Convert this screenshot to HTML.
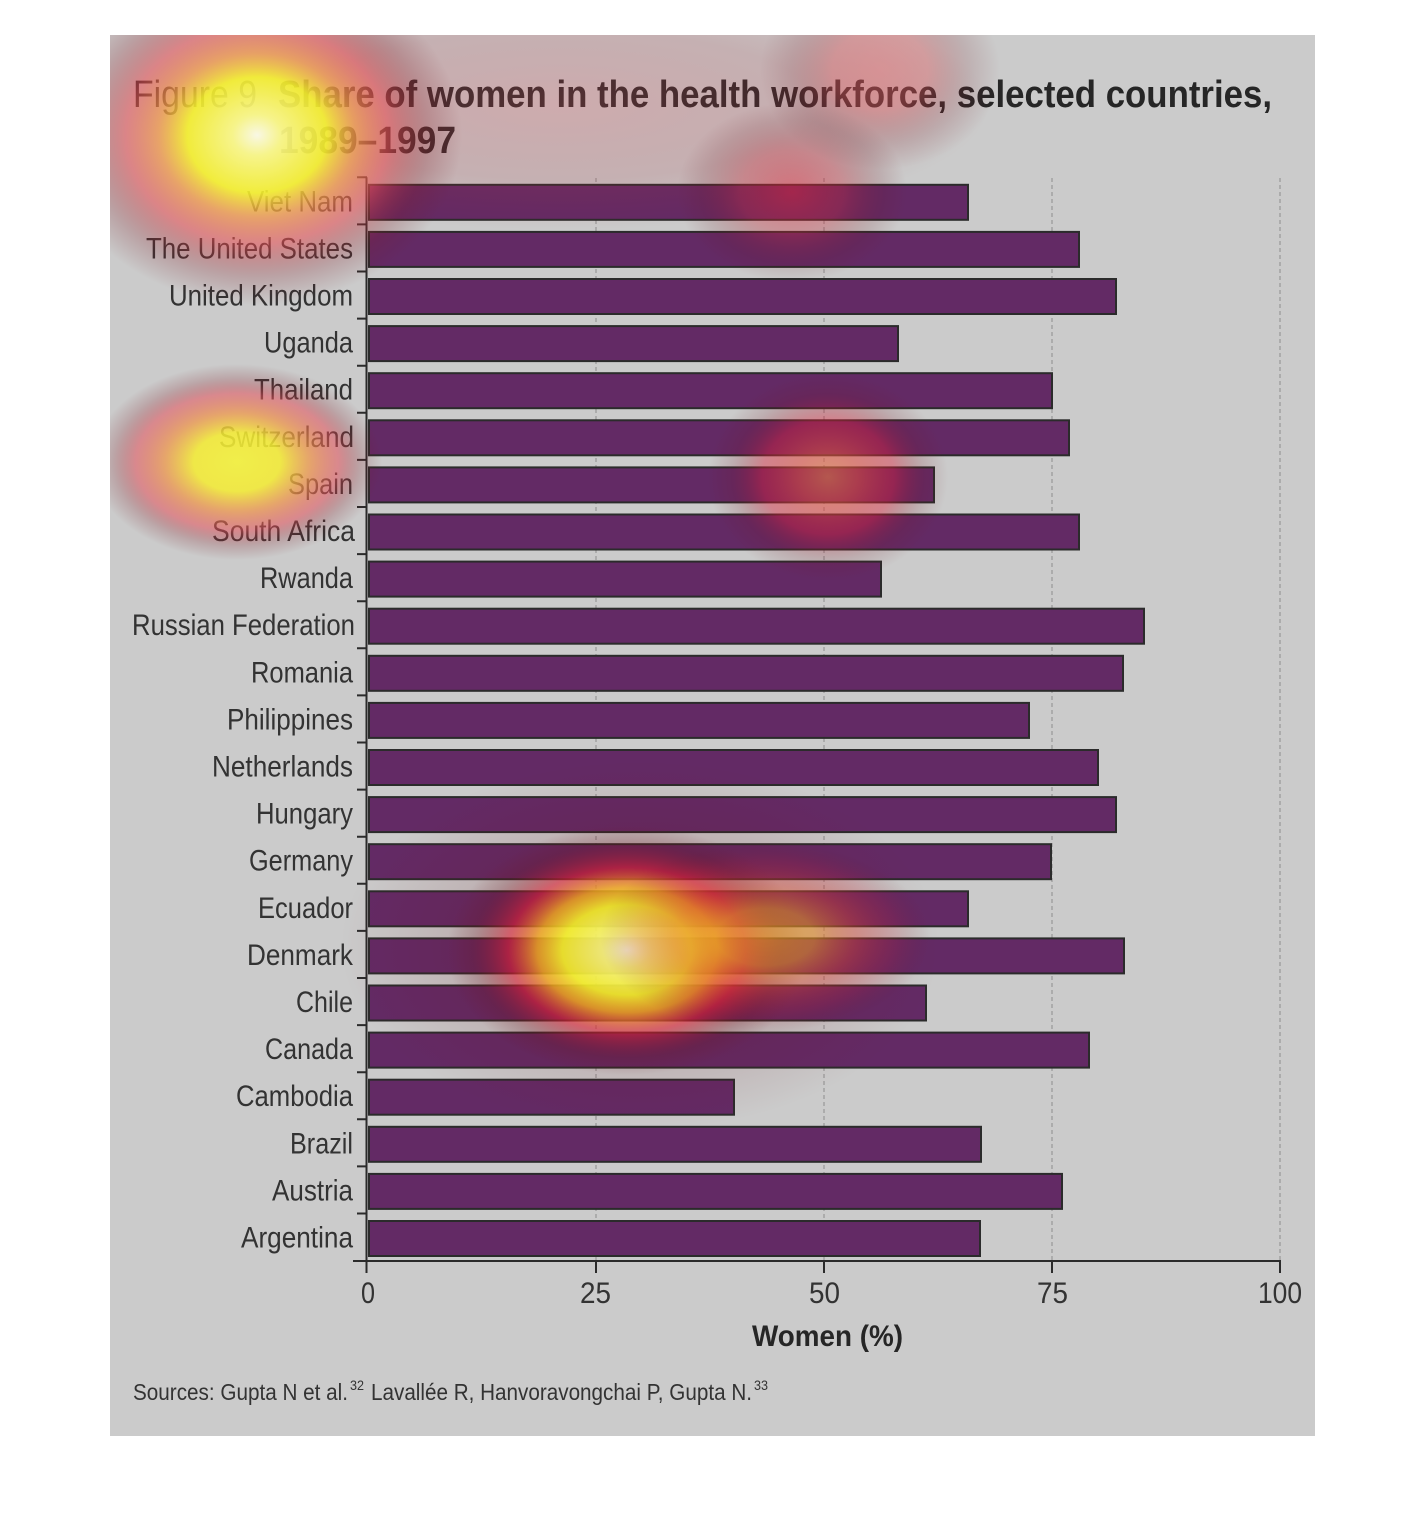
<!DOCTYPE html>
<html>
<head>
<meta charset="utf-8">
<style>
html,body{margin:0;padding:0;background:#ffffff;}
svg{display:block;}
text{font-family:"Liberation Sans",Arial,sans-serif;}
</style>
</head>
<body>
<svg width="1426" height="1530" viewBox="0 0 1426 1530" xmlns="http://www.w3.org/2000/svg">
<defs>
  <clipPath id="panelClip"><rect x="110" y="35" width="1205" height="1401"/></clipPath>
  <radialGradient id="gA">
    <stop offset="0" stop-color="rgb(250,250,230)" stop-opacity="0.96"/>
    <stop offset="0.12" stop-color="rgb(250,248,135)" stop-opacity="0.93"/>
    <stop offset="0.34" stop-color="rgb(245,240,45)" stop-opacity="0.9"/>
    <stop offset="0.48" stop-color="rgb(242,150,70)" stop-opacity="0.74"/>
    <stop offset="0.64" stop-color="rgb(232,75,80)" stop-opacity="0.55"/>
    <stop offset="0.84" stop-color="rgb(130,25,35)" stop-opacity="0.22"/>
    <stop offset="1" stop-color="rgb(110,20,30)" stop-opacity="0"/>
  </radialGradient>
  <radialGradient id="gB">
    <stop offset="0" stop-color="rgb(245,242,60)" stop-opacity="0.9"/>
    <stop offset="0.3" stop-color="rgb(245,236,50)" stop-opacity="0.86"/>
    <stop offset="0.5" stop-color="rgb(240,150,70)" stop-opacity="0.72"/>
    <stop offset="0.7" stop-color="rgb(230,75,85)" stop-opacity="0.52"/>
    <stop offset="0.86" stop-color="rgb(130,25,35)" stop-opacity="0.2"/>
    <stop offset="1" stop-color="rgb(110,20,30)" stop-opacity="0"/>
  </radialGradient>
  <radialGradient id="gC">
    <stop offset="0" stop-color="rgb(230,115,65)" stop-opacity="0.62"/>
    <stop offset="0.25" stop-color="rgb(228,75,60)" stop-opacity="0.56"/>
    <stop offset="0.55" stop-color="rgb(220,30,55)" stop-opacity="0.42"/>
    <stop offset="0.8" stop-color="rgb(120,20,35)" stop-opacity="0.16"/>
    <stop offset="1" stop-color="rgb(110,20,30)" stop-opacity="0"/>
  </radialGradient>
  <radialGradient id="gD">
    <stop offset="0" stop-color="rgb(246,244,205)" stop-opacity="0.95"/>
    <stop offset="0.14" stop-color="rgb(248,245,120)" stop-opacity="0.92"/>
    <stop offset="0.36" stop-color="rgb(245,240,40)" stop-opacity="0.9"/>
    <stop offset="0.5" stop-color="rgb(245,170,30)" stop-opacity="0.8"/>
    <stop offset="0.66" stop-color="rgb(230,30,50)" stop-opacity="0.55"/>
    <stop offset="0.86" stop-color="rgb(110,20,30)" stop-opacity="0.2"/>
    <stop offset="1" stop-color="rgb(110,20,30)" stop-opacity="0"/>
  </radialGradient>
  <radialGradient id="gD2">
    <stop offset="0" stop-color="rgb(238,160,35)" stop-opacity="0.62"/>
    <stop offset="0.3" stop-color="rgb(236,150,40)" stop-opacity="0.56"/>
    <stop offset="0.55" stop-color="rgb(228,70,50)" stop-opacity="0.38"/>
    <stop offset="0.8" stop-color="rgb(200,30,50)" stop-opacity="0.16"/>
    <stop offset="1" stop-color="rgb(110,20,30)" stop-opacity="0"/>
  </radialGradient>
  <radialGradient id="gHalo">
    <stop offset="0" stop-color="rgb(110,20,30)" stop-opacity="0.2"/>
    <stop offset="0.6" stop-color="rgb(110,20,30)" stop-opacity="0.14"/>
    <stop offset="1" stop-color="rgb(110,20,30)" stop-opacity="0"/>
  </radialGradient>
  <radialGradient id="gHaze">
    <stop offset="0" stop-color="rgb(215,80,90)" stop-opacity="0.26"/>
    <stop offset="0.6" stop-color="rgb(170,55,65)" stop-opacity="0.18"/>
    <stop offset="1" stop-color="rgb(150,40,50)" stop-opacity="0"/>
  </radialGradient>
  <radialGradient id="gE">
    <stop offset="0" stop-color="rgb(232,95,100)" stop-opacity="0.45"/>
    <stop offset="0.4" stop-color="rgb(225,80,85)" stop-opacity="0.36"/>
    <stop offset="0.75" stop-color="rgb(120,25,35)" stop-opacity="0.14"/>
    <stop offset="1" stop-color="rgb(110,20,30)" stop-opacity="0"/>
  </radialGradient>
  <radialGradient id="gF">
    <stop offset="0" stop-color="rgb(225,35,55)" stop-opacity="0.5"/>
    <stop offset="0.45" stop-color="rgb(200,40,55)" stop-opacity="0.34"/>
    <stop offset="0.8" stop-color="rgb(110,20,30)" stop-opacity="0.13"/>
    <stop offset="1" stop-color="rgb(110,20,30)" stop-opacity="0"/>
  </radialGradient>
</defs>

<!-- panel -->
<rect x="110" y="35" width="1205" height="1401" fill="#cbcbcb"/>

<!-- title -->
<text x="133" y="107" font-size="38" fill="#262626" textLength="124" lengthAdjust="spacingAndGlyphs">Figure 9</text>
<text x="278" y="107" font-size="38" font-weight="bold" fill="#262626" textLength="994" lengthAdjust="spacingAndGlyphs">Share of women in the health workforce, selected countries,</text>
<text x="279" y="153" font-size="38" font-weight="bold" fill="#262626" textLength="177" lengthAdjust="spacingAndGlyphs">1989–1997</text>

<!-- gridlines -->
<g stroke="#a4a4a4" stroke-width="1.6" stroke-dasharray="4 3">
  <line x1="596" y1="178" x2="596" y2="1260"/>
  <line x1="824" y1="178" x2="824" y2="1260"/>
  <line x1="1052" y1="178" x2="1052" y2="1260"/>
  <line x1="1280" y1="178" x2="1280" y2="1260"/>
</g>

<!-- bars -->
<g fill="#632a65" stroke="#2b2b2b" stroke-width="2">
  <rect x="369" y="184.8" width="599" height="35"/>
  <rect x="369" y="231.9" width="710" height="35"/>
  <rect x="369" y="279.0" width="747" height="35"/>
  <rect x="369" y="326.1" width="529" height="35"/>
  <rect x="369" y="373.2" width="683" height="35"/>
  <rect x="369" y="420.3" width="700" height="35"/>
  <rect x="369" y="467.4" width="565" height="35"/>
  <rect x="369" y="514.5" width="710" height="35"/>
  <rect x="369" y="561.6" width="512" height="35"/>
  <rect x="369" y="608.7" width="775" height="35"/>
  <rect x="369" y="655.8" width="754" height="35"/>
  <rect x="369" y="702.9" width="660" height="35"/>
  <rect x="369" y="750.0" width="729" height="35"/>
  <rect x="369" y="797.1" width="747" height="35"/>
  <rect x="369" y="844.2" width="682" height="35"/>
  <rect x="369" y="891.3" width="599" height="35"/>
  <rect x="369" y="938.4" width="755" height="35"/>
  <rect x="369" y="985.5" width="557" height="35"/>
  <rect x="369" y="1032.6" width="720" height="35"/>
  <rect x="369" y="1079.7" width="365" height="35"/>
  <rect x="369" y="1126.8" width="612" height="35"/>
  <rect x="369" y="1173.9" width="693" height="35"/>
  <rect x="369" y="1221.0" width="611" height="35"/>
</g>

<!-- axes -->
<g stroke="#2b2b2b" stroke-width="2" fill="none">
  <line x1="366.5" y1="177.3" x2="366.5" y2="1273"/>
  <line x1="353" y1="1261" x2="1281" y2="1261"/>
  <line x1="596" y1="1261" x2="596" y2="1273"/>
  <line x1="824" y1="1261" x2="824" y2="1273"/>
  <line x1="1052" y1="1261" x2="1052" y2="1273"/>
  <line x1="1280" y1="1261" x2="1280" y2="1273"/>
  <path d="M357 177.3H367M357 224.4H367M357 271.5H367M357 318.6H367M357 365.7H367M357 412.8H367M357 459.9H367M357 507.0H367M357 554.1H367M357 601.2H367M357 648.3H367M357 695.4H367M357 742.5H367M357 789.6H367M357 836.7H367M357 883.8H367M357 930.9H367M357 978.0H367M357 1025.1H367M357 1072.2H367M357 1119.3H367M357 1166.4H367M357 1213.5H367"/>
</g>

<!-- category labels -->
<g font-size="30" fill="#333333">
  <text x="247" y="211.3" textLength="106" lengthAdjust="spacingAndGlyphs">Viet Nam</text>
  <text x="146" y="258.4" textLength="207" lengthAdjust="spacingAndGlyphs">The United States</text>
  <text x="169" y="305.5" textLength="184" lengthAdjust="spacingAndGlyphs">United Kingdom</text>
  <text x="264" y="352.6" textLength="89" lengthAdjust="spacingAndGlyphs">Uganda</text>
  <text x="254" y="399.7" textLength="99" lengthAdjust="spacingAndGlyphs">Thailand</text>
  <text x="219" y="446.8" textLength="135" lengthAdjust="spacingAndGlyphs">Switzerland</text>
  <text x="288" y="493.9" textLength="65" lengthAdjust="spacingAndGlyphs">Spain</text>
  <text x="212" y="541.0" textLength="143" lengthAdjust="spacingAndGlyphs">South Africa</text>
  <text x="260" y="588.1" textLength="93" lengthAdjust="spacingAndGlyphs">Rwanda</text>
  <text x="132" y="635.2" textLength="223" lengthAdjust="spacingAndGlyphs">Russian Federation</text>
  <text x="251" y="682.3" textLength="102" lengthAdjust="spacingAndGlyphs">Romania</text>
  <text x="227" y="729.4" textLength="126" lengthAdjust="spacingAndGlyphs">Philippines</text>
  <text x="212" y="776.5" textLength="141" lengthAdjust="spacingAndGlyphs">Netherlands</text>
  <text x="256" y="823.6" textLength="97" lengthAdjust="spacingAndGlyphs">Hungary</text>
  <text x="249" y="870.7" textLength="104" lengthAdjust="spacingAndGlyphs">Germany</text>
  <text x="258" y="917.8" textLength="95" lengthAdjust="spacingAndGlyphs">Ecuador</text>
  <text x="247" y="964.9" textLength="106" lengthAdjust="spacingAndGlyphs">Denmark</text>
  <text x="296" y="1012.0" textLength="57" lengthAdjust="spacingAndGlyphs">Chile</text>
  <text x="265" y="1059.1" textLength="88" lengthAdjust="spacingAndGlyphs">Canada</text>
  <text x="236" y="1106.2" textLength="117" lengthAdjust="spacingAndGlyphs">Cambodia</text>
  <text x="290" y="1153.3" textLength="63" lengthAdjust="spacingAndGlyphs">Brazil</text>
  <text x="272" y="1200.4" textLength="81" lengthAdjust="spacingAndGlyphs">Austria</text>
  <text x="241" y="1247.5" textLength="112" lengthAdjust="spacingAndGlyphs">Argentina</text>
</g>

<!-- tick labels -->
<g font-size="30" fill="#333333">
  <text x="361" y="1303" textLength="14" lengthAdjust="spacingAndGlyphs">0</text>
  <text x="580" y="1303" textLength="31" lengthAdjust="spacingAndGlyphs">25</text>
  <text x="809" y="1303" textLength="31" lengthAdjust="spacingAndGlyphs">50</text>
  <text x="1037" y="1303" textLength="31" lengthAdjust="spacingAndGlyphs">75</text>
  <text x="1258" y="1303" textLength="44" lengthAdjust="spacingAndGlyphs">100</text>
</g>
<text x="752" y="1346" font-size="30" font-weight="bold" fill="#262626" textLength="151" lengthAdjust="spacingAndGlyphs">Women (%)</text>

<!-- sources -->
<g font-size="23" fill="#333333">
  <text x="133" y="1400" textLength="215" lengthAdjust="spacingAndGlyphs">Sources: Gupta N et al.</text>
  <text x="350" y="1390" font-size="14" textLength="14" lengthAdjust="spacingAndGlyphs">32</text>
  <text x="371" y="1400" textLength="381" lengthAdjust="spacingAndGlyphs">Lavallée R, Hanvoravongchai P, Gupta N.</text>
  <text x="754" y="1390" font-size="14" textLength="14" lengthAdjust="spacingAndGlyphs">33</text>
</g>

<!-- heatmap overlay -->
<g clip-path="url(#panelClip)">
  <ellipse cx="560" cy="105" rx="430" ry="125" fill="url(#gHaze)"/>
  <ellipse cx="640" cy="945" rx="300" ry="185" fill="url(#gHalo)"/>
  <ellipse cx="828" cy="477" rx="120" ry="104" fill="url(#gC)"/>
  <ellipse cx="880" cy="70" rx="120" ry="100" fill="url(#gE)"/>
  <ellipse cx="792" cy="192" rx="115" ry="90" fill="url(#gF)"/>
  <ellipse cx="257" cy="135" rx="205" ry="170" fill="url(#gA)"/>
  <ellipse cx="237" cy="462" rx="145" ry="98" fill="url(#gB)"/>
  <ellipse cx="627" cy="950" rx="180" ry="125" fill="url(#gD)"/>
  <ellipse cx="765" cy="937" rx="165" ry="95" fill="url(#gD2)"/>
</g>
</svg>
</body>
</html>
